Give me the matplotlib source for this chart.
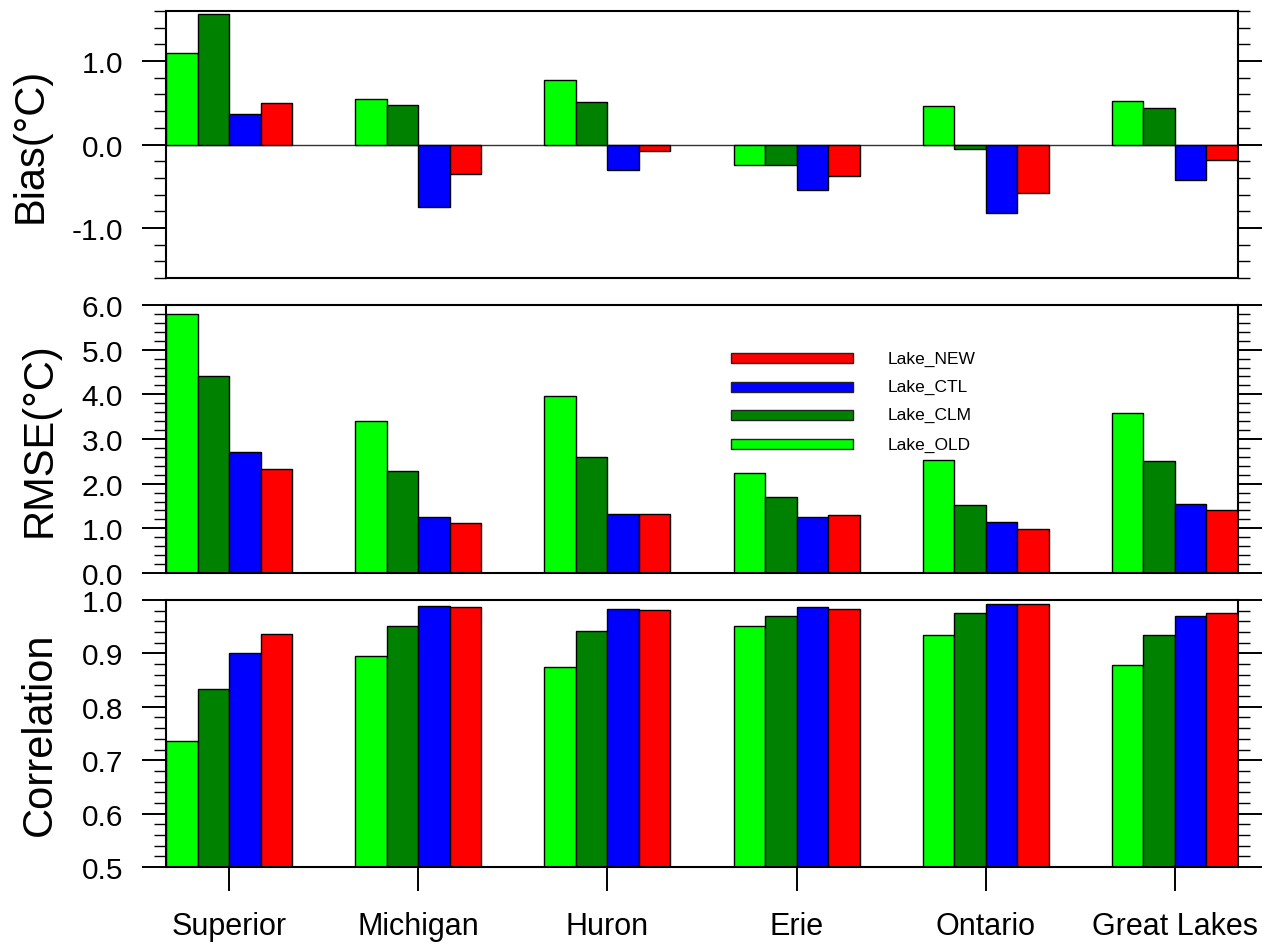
import numpy as np
import matplotlib
matplotlib.use("Agg")
import matplotlib.pyplot as plt
from matplotlib.patches import Rectangle
from matplotlib.ticker import MultipleLocator, FormatStrFormatter

# ── data ─────────────────────────────────────────────────────────────────────
lakes = ["Superior", "Michigan", "Huron", "Erie", "Ontario", "Great Lakes"]
runs = ["Lake_OLD", "Lake_CLM", "Lake_CTL", "Lake_NEW"]
colors = ["#00ff00", "#008200", "#0000ff", "#ff0000"]

bias_old = [1.10, 0.55, 0.77, -0.24, 0.46, 0.52]
bias_clm = [1.56, 0.47, 0.51, -0.25, -0.05, 0.44]
bias_ctl = [0.37, -0.75, -0.30, -0.54, -0.82, -0.42]
bias_new = [0.50, -0.355, -0.08, -0.38, -0.58, -0.18]

rmse_old = [5.79, 3.40, 3.96, 2.25, 2.52, 3.58]
rmse_clm = [4.42, 2.28, 2.59, 1.70, 1.53, 2.51]
rmse_ctl = [2.72, 1.26, 1.32, 1.26, 1.15, 1.55]
rmse_new = [2.32, 1.12, 1.33, 1.30, 0.98, 1.41]

corr_old = [0.736, 0.896, 0.875, 0.951, 0.935, 0.878]
corr_clm = [0.833, 0.952, 0.942, 0.970, 0.975, 0.934]
corr_ctl = [0.901, 0.989, 0.983, 0.986, 0.992, 0.970]
corr_new = [0.936, 0.987, 0.981, 0.983, 0.992, 0.976]

# ── look & feel ──────────────────────────────────────────────────────────────
plt.rcParams.update({
    "font.family": ["Liberation Sans", "DejaVu Sans"],
    "axes.unicode_minus": False,
})
TICK_FS = 21.5
LABEL_FS = 30

fig = plt.figure(figsize=(12.65, 9.45), dpi=100)
L, W = 166 / 1265, (1238 - 166) / 1265
panels = [(12, 279), (306, 574), (601, 868)]     # top/bottom in pixels
axes = [fig.add_axes([L, 1 - b / 945, W, (b - t) / 945]) for t, b in panels]

x = np.arange(1, len(lakes) + 1)
bw = 1 / 6


def draw_bars(ax, series, base=0.0):
    for k, (vals, c) in enumerate(zip(series, colors)):
        v = np.asarray(vals)
        ax.bar(x + (k - 1.5) * bw, v - base, width=bw, bottom=base,
               align="center", color=c, edgecolor="black", linewidth=1.0,
               zorder=3)


def style(ax, lo, hi, major, minor, fmt):
    ax.set_xlim(1 - 2 * bw, len(lakes) + 2 * bw)
    ax.set_ylim(lo, hi)
    ax.yaxis.set_major_locator(MultipleLocator(major))
    ax.yaxis.set_minor_locator(MultipleLocator(minor))
    ax.yaxis.set_major_formatter(FormatStrFormatter(fmt))
    ax.tick_params(axis="y", which="both", direction="out",
                   left=True, right=True, labelsize=TICK_FS, pad=14)
    ax.tick_params(axis="y", which="major", length=17, width=1.4)
    ax.tick_params(axis="y", which="minor", length=8.5, width=1.0)
    ax.tick_params(axis="x", which="both", bottom=False, top=False,
                   labelbottom=False)
    for s in ax.spines.values():
        s.set_linewidth(1.5)
        s.set_zorder(5)


# bias
ax = axes[0]
draw_bars(ax, [bias_old, bias_clm, bias_ctl, bias_new])
ax.axhline(0, color="#333333", linewidth=1.0, zorder=2)
style(ax, -1.6, 1.6, 1.0, 0.2, "%.1f")
ax.set_ylabel("Bias(°C)", fontsize=LABEL_FS)
ax.yaxis.set_label_coords(-0.108, 0.5)

# rmse
ax = axes[1]
draw_bars(ax, [rmse_old, rmse_clm, rmse_ctl, rmse_new])
style(ax, 0.0, 6.0, 1.0, 0.2, "%.1f")
ax.set_ylabel("RMSE(°C)", fontsize=LABEL_FS)
ax.yaxis.set_label_coords(-0.099, 0.5)

# legend, top entry is the last run
rows = [0.802, 0.695, 0.590, 0.481]
for yc, name, c in zip(rows, runs[::-1], colors[::-1]):
    ax.add_patch(Rectangle((0.527, yc - 0.0185), 0.1138, 0.037,
                           transform=ax.transAxes, facecolor=c,
                           edgecolor="#222222", linewidth=1.0, zorder=6))
    ax.text(0.6735, yc, name, transform=ax.transAxes, fontsize=12.5,
            ha="left", va="center", zorder=6)

# correlation
ax = axes[2]
draw_bars(ax, [corr_old, corr_clm, corr_ctl, corr_new], base=0.5)
style(ax, 0.5, 1.0, 0.1, 0.02, "%.1f")
ax.set_ylabel("Correlation", fontsize=LABEL_FS)
ax.yaxis.set_label_coords(-0.099, 0.5)
ax.set_xticks(x)
ax.set_xticklabels(lakes)
ax.tick_params(axis="x", which="major", bottom=True, labelbottom=True,
               direction="out", length=17, width=1.4, labelsize=22, pad=15)

fig.savefig("out.png", dpi=100)
